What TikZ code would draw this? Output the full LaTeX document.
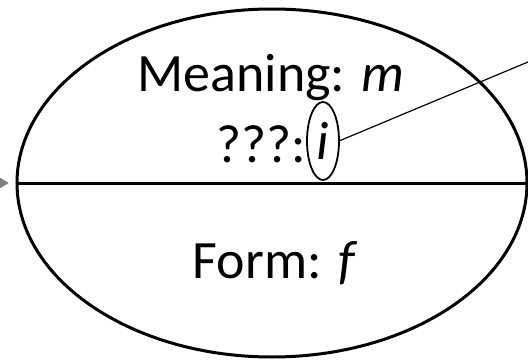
\documentclass[tikz,border=0pt]{standalone}
\usepackage{fontspec}
\setmainfont{Carlito}
\usetikzlibrary{arrows.meta,shapes.geometric}

\begin{document}
\begin{tikzpicture}[x=1pt,y=-1pt,>=Latex,every node/.style={font=\fontsize{54}{64}\selectfont,inner sep=0pt,outer sep=0pt},outer/.style={draw,ellipse,line width=3pt},inner/.style={draw,ellipse,line width=1.8pt},feed/.style={-{Triangle[length=12pt,width=13pt]},line width=3pt,gray,shorten >=8pt},lead/.style={line width=1.2pt}]
\useasboundingbox (0,0) rectangle (528,361);
\node[outer,minimum width=510pt,minimum height=348pt] (sign) at (272,183) {};
\draw[line width=3pt] (sign.west)--(sign.east);
\node[anchor=base] (meaning) at (271,92) {Meaning: \textit{m}};
\node[inner,minimum width=32pt,minimum height=78pt] (idx) at (323,141) {\textit{i}};
\node[anchor=base east] (unk) at (306,162) {???:};
\node[anchor=base] (form) at (275,278) {Form: \textit{f}};
\coordinate (src) at (-30,183);\coordinate (tail) at (528,62);
\draw[feed] (src)--(sign.west);
\draw[lead] (idx.east)--(tail);
\end{tikzpicture}
\end{document}
